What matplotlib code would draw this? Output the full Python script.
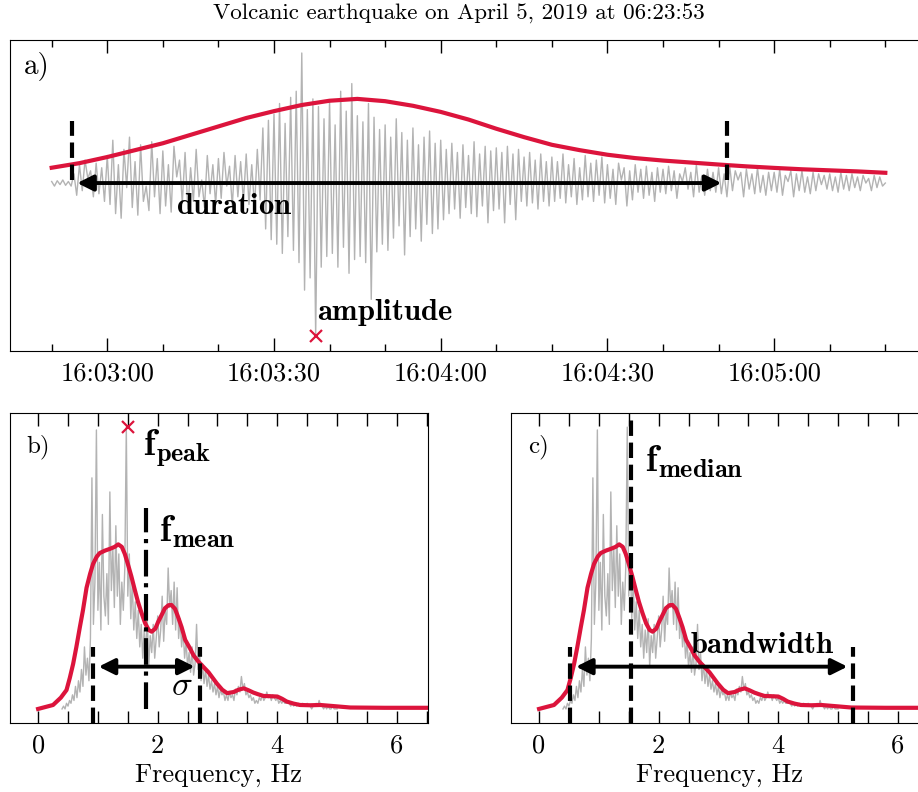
import numpy as np
import matplotlib
matplotlib.use('Agg')
import matplotlib.pyplot as plt

plt.rcParams['font.family'] = 'serif'
plt.rcParams['font.serif'] = ['cmr10']
plt.rcParams['mathtext.fontset'] = 'cm'
plt.rcParams['axes.unicode_minus'] = False

# --- panel a: waveform, seconds after 16:02:50, sampled every 0.5 s ---
trace = [
    0.01, -0.02, 0.015, -0.01, 0.02, -0.015, 0.01, -0.02,
    0.06, -0.08, 0.12, -0.05, 0.15, 0.03, 0.08, -0.09, 0.13, -0.07, 0.10, -0.12,
    0.18, -0.14, 0.28, -0.20, 0.12, -0.23, 0.22, -0.03, 0.30, -0.16,
    0.14, -0.21, 0.25, -0.12, -0.02, -0.18, 0.27, -0.09, 0.16, -0.20,
    0.21, -0.15, 0.12, -0.19, 0.24, 0.04, 0.15, -0.13, 0.20, -0.17,
    0.10, -0.12, 0.22, -0.09, 0.02, -0.16, 0.18, -0.07, 0.12, -0.14,
    0.16, -0.10, 0.20, -0.02, 0.11, -0.15, 0.18, -0.09, 0.14, -0.12,
    0.19, -0.14, 0.12, -0.16, 0.22, -0.11, 0.36, -0.30, 0.41, -0.37,
    0.45, -0.40, 0.52, -0.46, 0.39, -0.35, 0.56, -0.44, 0.60, -0.52,
    0.85, -0.70, 0.48, -0.62, 0.55, -1.00, 0.50, -0.55, 0.42, -0.48,
    0.54, -0.46, 0.38, -0.55, 0.60, -0.42, 0.47, -0.59, 0.65, -0.50,
    0.44, -0.48, 0.40, -0.52, 0.52, -0.76, 0.43, -0.45, 0.35, -0.40,
    0.38, -0.44, 0.30, -0.36, 0.42, -0.28, 0.33, -0.47, 0.28, -0.35,
    0.36, -0.30, 0.25, -0.38, 0.30, -0.27, 0.34, -0.33, 0.26, -0.30,
    0.28, -0.24, 0.22, -0.20, 0.26, -0.17, 0.20, -0.23, 0.25, -0.16,
    0.18, -0.20, 0.27, -0.22, 0.19, -0.15, 0.24, -0.26, 0.21, -0.18,
    0.23, -0.17, 0.20, -0.26, 0.24, -0.14, 0.19, -0.24, 0.22, -0.12,
    0.17, -0.15, 0.20, -0.13, 0.15, -0.17, 0.19, -0.12, 0.14, -0.15,
    0.17, -0.12, 0.14, -0.10, 0.19, -0.13, 0.12, -0.09, 0.16, -0.14,
    0.10, -0.11, 0.18, -0.09, 0.13, -0.12, 0.15, -0.08, 0.17, -0.13,
    0.12, -0.10, 0.09, -0.14, 0.13, 0.02, 0.10, -0.15, 0.08, -0.11,
    0.12, -0.06, 0.09, -0.10, 0.11, -0.08, 0.07, -0.12, 0.10, -0.06,
    0.09, -0.07, 0.11, -0.05, 0.08, -0.10, 0.06, 0.01, 0.10, -0.04,
    0.07, -0.09, 0.12, -0.06, 0.05, -0.08, 0.09, -0.05, 0.07, -0.06,
    0.10, -0.07, 0.06, -0.09, 0.11, -0.05, 0.08, 0.02, 0.07, -0.09,
    0.09, -0.04, 0.06, -0.07, 0.10, -0.06, 0.05, -0.08, 0.07, -0.05,
    0.07, -0.06, 0.09, -0.08, 0.05, 0.01, 0.08, -0.09, 0.06, -0.05,
    0.08, -0.06, 0.04, -0.07, 0.07, -0.05, 0.06, -0.01, 0.05, -0.04,
    0.06, -0.05, 0.04, -0.06, 0.07, -0.04, 0.05, -0.05, 0.06, -0.03,
    0.04, -0.05, 0.05, 0.0, 0.03, -0.05, 0.05, -0.03, 0.04, -0.02,
    0.0,
]
t_trace = np.arange(len(trace)) * 0.5

env_t = np.arange(0, 151, 5)
envelope = [0.10, 0.13, 0.17, 0.215, 0.26, 0.315, 0.37, 0.425, 0.47, 0.51,
            0.538, 0.55, 0.535, 0.505, 0.465, 0.415, 0.355, 0.30, 0.25, 0.215,
            0.185, 0.163, 0.147, 0.134, 0.121, 0.109, 0.099, 0.090, 0.083,
            0.076, 0.067]

dur_start, dur_end = 3.6, 121.5
amp_t, amp_v = 47.5, -1.0

time_ticks = [10, 40, 70, 100, 130]
time_labels = ['16:03:00', '16:03:30', '16:04:00', '16:04:30', '16:05:00']

# --- panels b, c: spectrum ---
spec = [
    0.0, 0.01, 0.0, 0.02, 0.01, 0.03, 0.02, 0.05, 0.03, 0.08,
    0.04, 0.10, 0.06, 0.14, 0.08, 0.22, 0.12, 0.18, 0.10, 0.25,
    0.82, 0.30, 0.45, 0.99, 0.35, 0.52, 0.28, 0.69, 0.40, 0.33,
    0.48, 0.30, 0.77, 0.42, 0.57, 0.36, 0.65, 0.40, 0.55, 0.30,
    0.45, 0.35, 0.50, 1.00, 0.40, 0.55, 0.32, 0.45, 0.28, 0.38,
    0.25, 0.35, 0.22, 0.30, 0.18, 0.28, 0.20, 0.32, 0.15, 0.26,
    0.20, 0.30, 0.18, 0.25, 0.33, 0.22, 0.28, 0.40, 0.24, 0.35,
    0.30, 0.50, 0.36, 0.42, 0.30, 0.45, 0.28, 0.43, 0.25, 0.32,
    0.22, 0.28, 0.18, 0.24, 0.15, 0.20, 0.13, 0.22, 0.12, 0.16,
    0.30, 0.14, 0.20, 0.10, 0.16, 0.09, 0.14, 0.08, 0.12, 0.07,
    0.10, 0.06, 0.09, 0.05, 0.08, 0.04, 0.07, 0.05, 0.06, 0.03,
    0.05, 0.03, 0.06, 0.04, 0.05, 0.03, 0.07, 0.05, 0.08, 0.06,
    0.115, 0.07, 0.09, 0.05, 0.06, 0.04, 0.05, 0.03, 0.04, 0.02,
    0.03, 0.02, 0.04, 0.03, 0.05, 0.03, 0.04, 0.06, 0.04, 0.05,
    0.03, 0.05, 0.04, 0.03, 0.04, 0.02, 0.03, 0.02, 0.03, 0.02,
    0.02, 0.03, 0.02, 0.01, 0.02, 0.01, 0.02, 0.01, 0.02, 0.01,
    0.01, 0.02, 0.01, 0.01, 0.02, 0.01, 0.01, 0.0, 0.01, 0.01,
    0.02, 0.01, 0.03, 0.01, 0.01, 0.0, 0.01, 0.0, 0.01, 0.0,
    0.0, 0.01, 0.0, 0.0, 0.0,
]
freq = 0.4 + np.arange(len(spec)) * 0.025

smooth_f = [0.0, 0.25, 0.38, 0.475, 0.53, 0.586, 0.64, 0.698, 0.75, 0.81,
            0.87, 0.92, 0.98, 1.03, 1.12, 1.2, 1.28, 1.34, 1.40, 1.45,
            1.50, 1.56, 1.62, 1.67, 1.73, 1.79, 1.85, 1.90, 1.96, 2.01,
            2.07, 2.12, 2.18, 2.23, 2.29, 2.34, 2.40, 2.46, 2.54, 2.60,
            2.68, 2.76, 2.85, 2.92, 2.99, 3.08, 3.16, 3.27, 3.35, 3.44,
            3.52, 3.6, 3.68, 3.77, 3.9, 4.0, 4.08, 4.16, 4.27, 4.38,
            4.55, 4.72, 5.0, 5.22, 5.8, 6.52]
smooth_v = [0.0, 0.014, 0.04, 0.067, 0.11, 0.16, 0.22, 0.29, 0.35, 0.43,
            0.48, 0.515, 0.54, 0.553, 0.562, 0.568, 0.575, 0.584, 0.575, 0.55,
            0.515, 0.47, 0.42, 0.38, 0.34, 0.304, 0.28, 0.274, 0.285, 0.31,
            0.335, 0.357, 0.368, 0.369, 0.355, 0.327, 0.29, 0.245, 0.215, 0.19,
            0.168, 0.15, 0.13, 0.11, 0.09, 0.068, 0.056, 0.06, 0.068, 0.073,
            0.066, 0.058, 0.052, 0.046, 0.045, 0.044, 0.036, 0.026, 0.019, 0.014,
            0.013, 0.014, 0.009, 0.005, 0.004, 0.004]

f_peak, peak_v = 1.5, 1.0
f_mean = 1.81
sigma_lo, sigma_hi = 0.92, 2.71
f_median = 1.53
bw_lo, bw_hi = 0.525, 5.25

GRAY = '#b3b3b3'
RED = '#dc143c'

fig = plt.figure(figsize=(9.18, 7.92), dpi=100)
ax_a = fig.add_axes([0.0109, 0.5568, 0.9989, 0.3927])
ax_b = fig.add_axes([0.0109, 0.0871, 0.4553, 0.3914])
ax_c = fig.add_axes([0.5566, 0.0871, 0.4553, 0.3914])


def arrow(ax, x0, x1, y):
    ax.annotate('', xy=(x1, y), xytext=(x0, y),
                arrowprops=dict(arrowstyle='<|-|>', color='k', lw=2.8,
                                mutation_scale=24, shrinkA=4, shrinkB=4))


# panel a
ax_a.plot(t_trace, trace, color=GRAY, lw=1.0)
ax_a.plot(env_t, envelope, color=RED, lw=3)
ax_a.vlines([dur_start, dur_end], 0.02, 0.405, colors='k', linestyles='--', lw=3)
arrow(ax_a, dur_start, dur_end, 0.0)
ax_a.plot(amp_t, amp_v, 'x', color=RED, ms=9, mew=1.6)
ax_a.text(32.8, -0.205, r'$\mathbf{duration}$', fontsize=22, ha='center', va='baseline')
ax_a.text(47.7, -0.895, r'$\mathbf{amplitude}$', fontsize=22, ha='left', va='baseline')
ax_a.text(0.015, 0.915, 'a)', transform=ax_a.transAxes, fontsize=21, va='center')
ax_a.set_xlim(-7.5, 157.5)
ax_a.set_ylim(-1.098, 0.935)
ax_a.set_xticks(time_ticks)
ax_a.set_xticklabels(time_labels)
ax_a.set_xticks(np.arange(0, 151, 10), minor=True)
ax_a.set_yticks([])
ax_a.tick_params(axis='x', which='both', direction='in', top=True, labelsize=19, pad=8)
ax_a.tick_params(axis='x', which='major', length=9.5, width=1)
ax_a.tick_params(axis='x', which='minor', length=5, width=1)
fig.text(0.5, 0.982, 'Volcanic earthquake on April 5, 2019 at 06:23:53',
         fontsize=16.6, ha='center', va='center')

# panel b
ax_b.plot(freq, spec, color=GRAY, lw=1.0)
ax_b.plot(smooth_f, smooth_v, color=RED, lw=3)
ax_b.plot(f_peak, peak_v, 'x', color=RED, ms=9, mew=1.6)
ax_b.vlines(f_mean, 0, 0.713, colors='k', linestyles='-.', lw=3)
ax_b.vlines([sigma_lo, sigma_hi], -0.05, 0.22, colors='k', linestyles='--', lw=3)
arrow(ax_b, sigma_lo, sigma_hi, 0.15)
ax_b.text(1.76, 0.925, r'$\mathbf{f}_{\mathbf{peak}}$', fontsize=27, ha='left', va='center')
ax_b.text(2.03, 0.63, r'$\mathbf{f}_{\mathbf{mean}}$', fontsize=27, ha='left', va='center')
ax_b.text(2.40, 0.079, r'$\sigma$', fontsize=25, ha='center', va='center')
ax_b.text(0.04, 0.89, 'b)', transform=ax_b.transAxes, fontsize=18, va='center')

# panel c
ax_c.plot(freq, spec, color=GRAY, lw=1.0)
ax_c.plot(smooth_f, smooth_v, color=RED, lw=3)
ax_c.axvline(f_median, color='k', ls='--', lw=3)
ax_c.vlines([bw_lo, bw_hi], -0.05, 0.22, colors='k', linestyles='--', lw=3)
arrow(ax_c, bw_lo, bw_hi, 0.15)
ax_c.text(1.77, 0.877, r'$\mathbf{f}_{\mathbf{median}}$', fontsize=27, ha='left', va='center')
ax_c.text(2.53, 0.227, r'$\mathbf{bandwidth}$', fontsize=22, ha='left', va='center')
ax_c.text(0.04, 0.89, 'c)', transform=ax_c.transAxes, fontsize=18, va='center')

for ax in (ax_b, ax_c):
    ax.set_xlim(-0.47, 6.52)
    ax.set_ylim(-0.05, 1.05)
    ax.set_xticks([0, 2, 4, 6])
    ax.set_xticks(np.arange(0, 6.6, 0.5), minor=True)
    ax.set_yticks([])
    ax.tick_params(axis='x', which='both', direction='in', top=True,
                   labelsize=19, pad=8, length=9, width=1)
    ax.set_xlabel('Frequency, Hz', fontsize=19, labelpad=4)

fig.savefig('out.png', dpi=100)
